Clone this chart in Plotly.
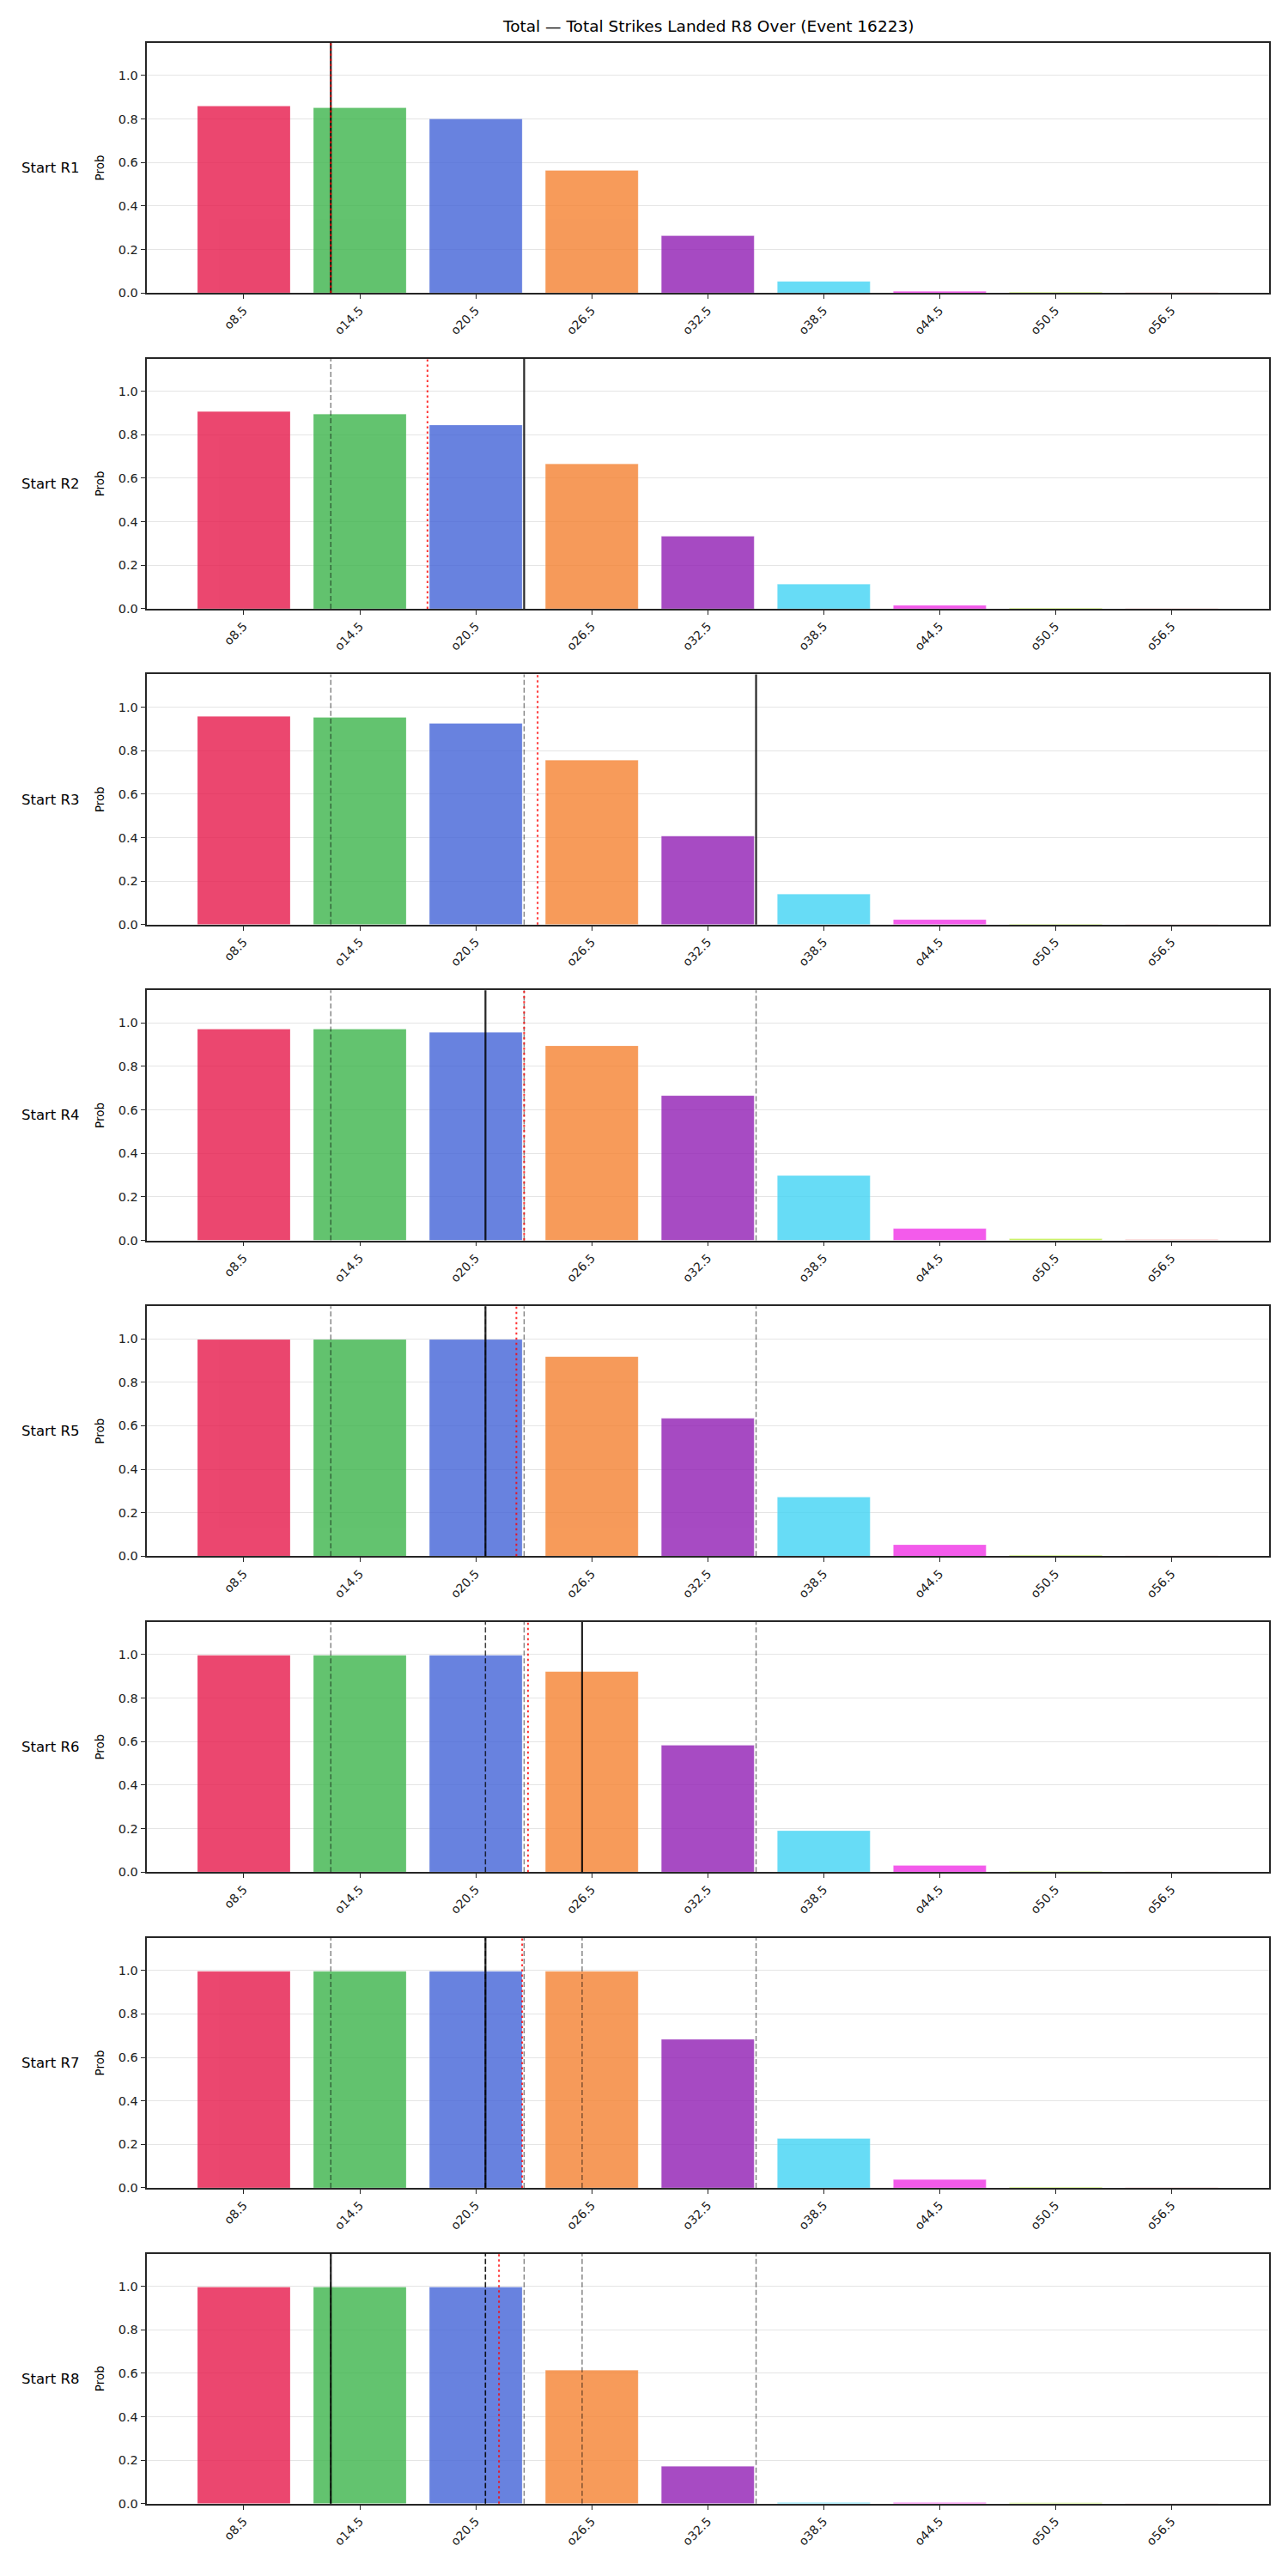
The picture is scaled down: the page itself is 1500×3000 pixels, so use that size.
import plotly.graph_objects as go

# ---------------- data ----------------
categories = ["o8.5", "o14.5", "o20.5", "o26.5", "o32.5", "o38.5", "o44.5", "o50.5", "o56.5"]
line_values = [8.5, 14.5, 20.5, 26.5, 32.5, 38.5, 44.5, 50.5, 56.5]
round_labels = ["Start R1", "Start R2", "Start R3", "Start R4",
                "Start R5", "Start R6", "Start R7", "Start R8"]

probs_r1 = [0.859, 0.851, 0.800, 0.563, 0.263, 0.053, 0.007, 0.003, 0.002]
probs_r2 = [0.907, 0.895, 0.845, 0.666, 0.333, 0.113, 0.015, 0.003, 0.002]
probs_r3 = [0.957, 0.953, 0.925, 0.756, 0.407, 0.140, 0.023, 0.003, 0.002]
probs_r4 = [0.972, 0.972, 0.957, 0.895, 0.666, 0.298, 0.054, 0.008, 0.005]
probs_r5 = [0.997, 0.997, 0.997, 0.918, 0.634, 0.272, 0.053, 0.004, 0.002]
probs_r6 = [0.997, 0.997, 0.997, 0.922, 0.583, 0.190, 0.030, 0.003, 0.002]
probs_r7 = [0.996, 0.996, 0.996, 0.996, 0.683, 0.227, 0.038, 0.003, 0.002]
probs_r8 = [0.996, 0.996, 0.996, 0.614, 0.172, 0.005, 0.005, 0.004, 0.002]
all_probs = [probs_r1, probs_r2, probs_r3, probs_r4, probs_r5, probs_r6, probs_r7, probs_r8]

# strikes marker per round (black solid = actual, red dotted = expected)
actual_marks = [13, 23, 35, 21, 21, 26, 21, 13]
expected_marks = [13.0, 18.0, 23.7, 23.0, 22.6, 23.2, 22.9, 21.7]

bar_colors = ["#e6194b", "#3cb44b", "#4363d8", "#f58231", "#911eb4",
              "#42d4f4", "#f032e6", "#bfef45", "#fabebe"]

title_text = "Total \u2014 Total Strikes Landed R8 Over (Event 16223)"

# ---------------- layout geometry ----------------
W, H = 1500, 3000
left_px, right_px = 170.5, 1478
first_top = 50.0
pitch = 368.8
panel_h = 292.0
FONT = "DejaVu Sans"
AX = "#262626"

fig = go.Figure()
layout = dict(
    width=W, height=H,
    margin=dict(l=0, r=0, t=0, b=0),
    paper_bgcolor="white", plot_bgcolor="white",
    showlegend=False,
    font=dict(family=FONT, size=14, color="#222"),
)
shapes = []
annotations = []

xmin = line_values[0] - 0.84 * 6
xmax = line_values[-1] + 0.84 * 6

for k, probs in enumerate(all_probs):
    idx = "" if k == 0 else str(k + 1)
    top = first_top + k * pitch
    bottom = top + panel_h
    ydom = [1 - bottom / H, 1 - top / H]
    xdom = [left_px / W, right_px / W]

    fig.add_trace(go.Bar(
        x=line_values, y=probs, width=4.8,
        marker=dict(color=bar_colors, opacity=0.8,
                    line=dict(color="rgba(255,255,255,0.6)", width=0.4)),
        xaxis="x" + idx, yaxis="y" + idx,
        hoverinfo="skip",
    ))

    layout["xaxis" + idx] = dict(
        domain=xdom, anchor="y" + idx, range=[xmin, xmax],
        tickmode="array", tickvals=line_values, ticktext=categories,
        tickangle=-45, ticks="outside", ticklen=5, tickwidth=1.3, tickcolor=AX,
        showline=True, linecolor=AX, linewidth=1.6, mirror=True,
        showgrid=False, zeroline=False,
        tickfont=dict(family=FONT, size=14, color="#222"),
    )
    layout["yaxis" + idx] = dict(
        domain=ydom, anchor="x" + idx, range=[0, 1.15],
        tickmode="array", tickvals=[0, 0.2, 0.4, 0.6, 0.8, 1.0],
        ticktext=["0.0", "0.2", "0.4", "0.6", "0.8", "1.0"],
        ticks="outside", ticklen=5, tickwidth=1.3, tickcolor=AX,
        showline=True, linecolor=AX, linewidth=1.6, mirror=True,
        showgrid=True, gridcolor="#e5e5e5", gridwidth=1,
        zeroline=False,
        tickfont=dict(family=FONT, size=14.5, color="#222"),
    )

    xr = "x" + idx
    yr = ("y" + idx) + " domain"
    # previous rounds' actual marks: translucent dashed
    for prev in actual_marks[:k]:
        shapes.append(dict(type="line", xref=xr, yref=yr, x0=prev, x1=prev, y0=0, y1=1,
                           line=dict(color="rgba(0,0,0,0.5)", width=1.4, dash="6px,3px")))
    # actual mark: solid black
    shapes.append(dict(type="line", xref=xr, yref=yr, x0=actual_marks[k], x1=actual_marks[k],
                       y0=0, y1=1, line=dict(color="rgba(0,0,0,0.85)", width=2.2)))
    # expected: red dotted
    shapes.append(dict(type="line", xref=xr, yref=yr, x0=expected_marks[k], x1=expected_marks[k],
                       y0=0, y1=1, line=dict(color="rgba(255,0,0,0.8)", width=2, dash="2.5px,3.5px")))

    mid = 1 - (top + panel_h / 2) / H
    annotations.append(dict(
        text=round_labels[k], xref="paper", yref="paper", x=23 / W, y=mid,
        xanchor="left", yanchor="middle", showarrow=False,
        font=dict(family=FONT, size=16.5, color="black"),
    ))
    annotations.append(dict(
        text="Prob", xref="paper", yref="paper", x=116 / W, y=mid,
        xanchor="center", yanchor="middle", textangle=-90, showarrow=False,
        font=dict(family=FONT, size=13.5, color="black"),
    ))

annotations.append(dict(
    text=title_text, xref="paper", yref="paper",
    x=(left_px + right_px) / 2 / W, y=1 - 31 / H,
    xanchor="center", yanchor="middle", showarrow=False,
    font=dict(family=FONT, size=18.5, color="black"),
))

layout["shapes"] = shapes
layout["annotations"] = annotations
fig.update_layout(**layout)
fig.write_html("out.html")
